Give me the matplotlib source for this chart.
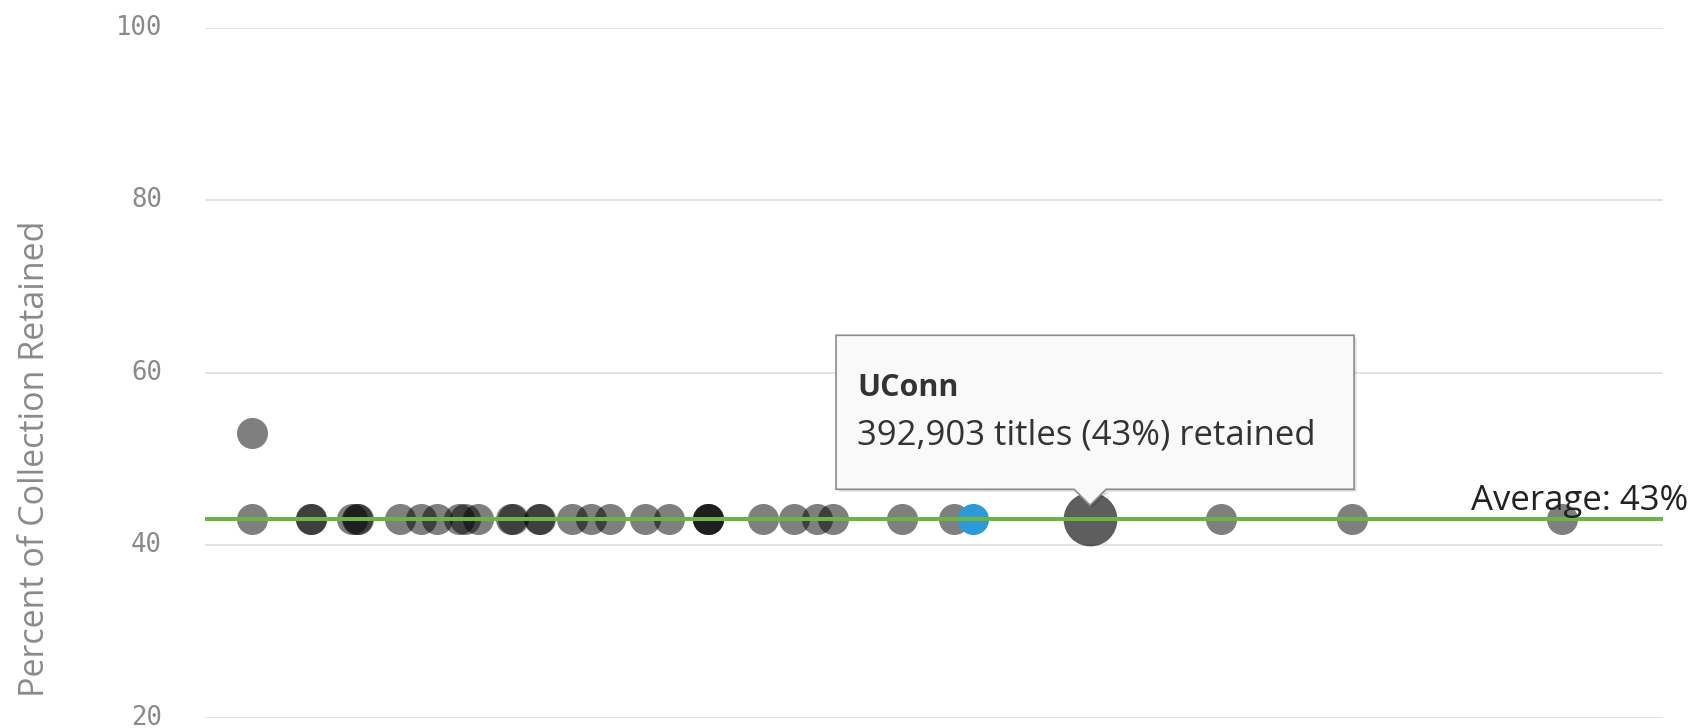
import numpy as np
import matplotlib
matplotlib.use('Agg')
import matplotlib.pyplot as plt
from matplotlib.patches import Polygon
from matplotlib import transforms

matplotlib.rcParams['font.family'] = ['Open Sans', 'DejaVu Sans']

# position of each library along the (unlabelled) x axis, 0-100
lib_x = [3.2, 7.3, 7.3, 10.1, 10.4, 10.5, 13.4, 14.8, 15.9, 17.4, 17.8, 18.7,
         21.0, 21.1, 22.9, 23.0, 25.2, 26.5, 27.8, 30.2, 31.8,
         34.5, 34.5, 34.5, 38.3, 40.4, 42.0, 43.1, 47.8, 51.4,
         69.7, 78.7, 93.1, 3.2]
lib_pct = [43] * 33 + [53]

# highlighted points
blue_x, blue_pct = 52.7, 43
uconn_x, uconn_pct = 60.7, 43
uconn_titles = 392903

average_pct = 43
yticks = [20, 40, 60, 80, 100]

fig = plt.figure(figsize=(16.93, 7.28), dpi=100)
ax = fig.add_axes([0.1211, 0.01429, 0.8612, 0.94752])
ax.set_xlim(0, 100)
ax.set_ylim(20, 100)

for s in ax.spines.values():
    s.set_visible(False)
ax.set_xticks([])
ax.set_yticks(yticks)
ax.yaxis.grid(True, color='#e3e3e3', linewidth=1.4)
ax.set_axisbelow(True)
ax.tick_params(axis='y', length=0, pad=31, labelsize=18.5, labelcolor='#8a8a8a')
# nudge tick labels up a touch so the bottom one stays inside the figure
lift = transforms.ScaledTranslation(0, 0.03, fig.dpi_scale_trans)
for lbl in ax.get_yticklabels():
    lbl.set_family('DejaVu Sans Mono')
    lbl.set_transform(lbl.get_transform() + lift)

# scatter points
ax.scatter(lib_x, lib_pct, s=500, color='black', alpha=0.5, linewidths=0, zorder=2)
ax.scatter([blue_x], [blue_pct], s=500, color='#2b9ad7', linewidths=0, zorder=3)
ax.scatter([uconn_x], [uconn_pct], s=1500, color='black', alpha=0.63, linewidths=0, zorder=3)

# average line
ax.axhline(average_pct, color='#6cb443', linewidth=2.9, zorder=4)
ax.annotate('Average: %d%%' % average_pct, xy=(1.0, average_pct),
            xycoords=transforms.blended_transform_factory(ax.transAxes, ax.transData),
            xytext=(18, 7), textcoords='offset points', ha='right', va='baseline',
            fontsize=25, color='#222222', annotation_clip=False, zorder=5)

# tooltip anchored to the UConn point (offsets in pixels / 100 -> inches)
off = fig.dpi_scale_trans + transforms.ScaledTranslation(uconn_x, uconn_pct, ax.transData)
box = np.array([[-254, 30], [-254, 184], [264, 184], [264, 30],
                [16, 30], [0, 14], [-16, 30]]) / 100.0
shadow = Polygon(box + np.array([0.025, -0.025]), closed=True, transform=off,
                 facecolor='black', alpha=0.12, edgecolor='none', zorder=6)
tip = Polygon(box, closed=True, transform=off, facecolor='#f9f9f9',
              edgecolor='#8c8c8c', linewidth=1.2, zorder=7)
ax.add_patch(shadow)
ax.add_patch(tip)
for p in (shadow, tip):
    p.set_clip_on(False)
ax.text(-2.33, 1.23, 'UConn', transform=off, fontsize=22, fontweight='bold',
        color='#333333', va='baseline', ha='left', zorder=8)
ax.text(-2.33, 0.75, '{:,} titles ({}%) retained'.format(uconn_titles, uconn_pct),
        transform=off, fontsize=25, color='#333333', va='baseline', ha='left', zorder=8)

fig.text(35 / 1693, 1 - 459 / 728, 'Percent of Collection Retained', rotation=90,
         ha='center', va='center', fontsize=24.5, color='#8a8a8a')

fig.savefig('out.png', dpi=100)
